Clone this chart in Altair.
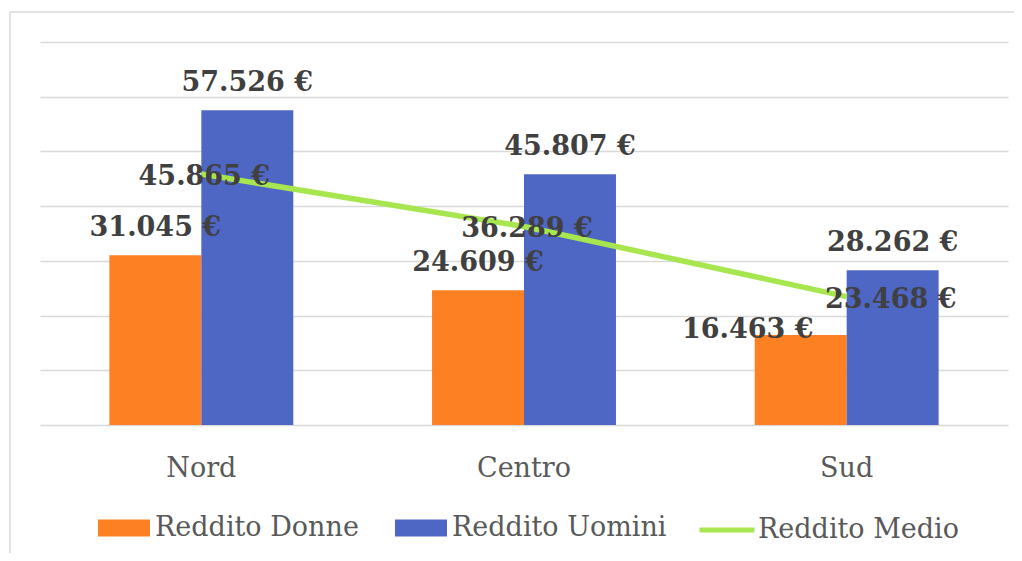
import altair as alt
import pandas as pd

categories = ["Nord", "Centro", "Sud"]
donne = [31045, 24609, 16463]
uomini = [57526, 45807, 28262]
medio = [45865, 36289, 23468]
bar_series = ["Reddito Donne", "Reddito Uomini"]
line_series = ["Reddito Medio"]

ORANGE = "#FD8122"
BLUE = "#4E66C4"
GREEN = "#A8E64F"
GRID = "#D9D9D9"
FONT = "DejaVu Serif"
FS = 27


def fmt(v):
    return f"{v:,}".replace(",", ".") + " €"


bars = pd.DataFrame({
    "cat": categories * 2,
    "serie": [bar_series[0]] * 3 + [bar_series[1]] * 3,
    "val": donne + uomini,
})
bars["lab"] = bars["val"].map(fmt)

line = pd.DataFrame({"cat": categories, "serie": line_series * 3, "val": medio})
line["lab"] = line["val"].map(fmt)

xscale = alt.Scale(domain=categories, paddingInner=0.43, paddingOuter=0.215)
x = alt.X("cat:N", sort=categories, scale=xscale,
          axis=alt.Axis(title=None, domain=False, ticks=False, labelAngle=0,
                        labelFont=FONT, labelFontSize=FS, labelColor="#595959",
                        labelPadding=30, grid=False))
y = alt.Y("val:Q", scale=alt.Scale(domain=[0, 70000], nice=False, zero=True),
          axis=alt.Axis(title=None, labels=False, ticks=False, domain=False,
                        values=list(range(0, 70001, 10000)), grid=True,
                        gridColor=GRID, gridWidth=1.5))
xoff = alt.XOffset("serie:N", sort=bar_series,
                   scale=alt.Scale(domain=bar_series, paddingInner=0, paddingOuter=0))

rect_path = "M-1,-0.327H1V0.327H-1Z"

border = alt.Chart(pd.DataFrame({"a": [0]})).mark_rect(
    fill=None, stroke=GRID, strokeWidth=1.5, clip=False
).encode(x=alt.value(-30), x2=alt.value(1010), y=alt.value(-30), y2=alt.value(560))

bar_layer = alt.Chart(bars).mark_bar().encode(
    x=x, y=y, xOffset=xoff,
    fill=alt.Fill("serie:N", sort=bar_series,
                  scale=alt.Scale(domain=bar_series, range=[ORANGE, BLUE]),
                  legend=alt.Legend(orient="none", legendX=58, legendY=460,
                                    direction="horizontal", title=None,
                                    symbolType=rect_path, symbolSize=2704,
                                    symbolStrokeWidth=0,
                                    labelFont=FONT, labelFontSize=FS,
                                    labelColor="#595959", labelOffset=5,
                                    columnPadding=36, padding=0,
                                    labelLimit=400)),
)

line_layer = alt.Chart(line).mark_line(strokeWidth=5.5).encode(
    x=x, y=y,
    stroke=alt.Stroke("serie:N",
                      scale=alt.Scale(domain=line_series, range=[GREEN]),
                      legend=alt.Legend(orient="none", legendX=657, legendY=458,
                                        direction="horizontal", title=None,
                                        symbolType="stroke", symbolSize=3025,
                                        symbolStrokeWidth=5,
                                        labelFont=FONT, labelFontSize=FS,
                                        labelColor="#595959", labelOffset=1,
                                        padding=0, labelLimit=400)),
)

txt = dict(font=FONT, fontSize=FS, fontWeight="bold", color="#404040")

bar_text = alt.Chart(bars).transform_filter(
    "!(datum.cat == 'Sud' && datum.serie == 'Reddito Donne')"
).mark_text(baseline="alphabetic", dy=-19, **txt).encode(
    x=x, y=y, xOffset=xoff, text="lab:N")

bar_text_sud = alt.Chart(bars).transform_filter(
    "datum.cat == 'Sud' && datum.serie == 'Reddito Donne'"
).mark_text(baseline="alphabetic", dy=3, dx=-53, **txt).encode(
    x=x, y=y, xOffset=xoff, text="lab:N")

line_text = alt.Chart(line).transform_filter("datum.cat != 'Sud'").mark_text(
    baseline="alphabetic", dy=11, dx=3, **txt).encode(x=x, y=y, text="lab:N")

line_text_sud = alt.Chart(line).transform_filter("datum.cat == 'Sud'").mark_text(
    baseline="alphabetic", dy=11, dx=44, **txt).encode(x=x, y=y, text="lab:N")

chart = alt.layer(
    border, bar_layer, line_layer, bar_text, bar_text_sud, line_text, line_text_sud
).resolve_scale(fill="independent", stroke="independent").properties(
    width=968, height=383,
    padding={"left": 32, "top": 34, "right": 6, "bottom": 128},
    autosize=alt.AutoSizeParams(type="none"),
    background="white",
).configure_view(strokeWidth=0, stroke="transparent")

chart.save("out.html", embed_options={"renderer": "svg", "actions": False})
